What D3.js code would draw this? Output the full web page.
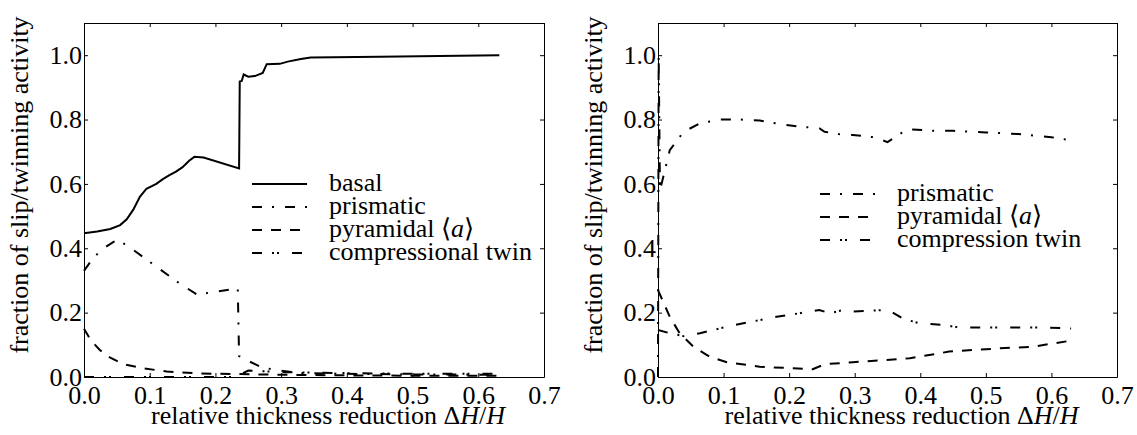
<!DOCTYPE html>
<html>
<head>
<meta charset="utf-8">
<script src="https://cdn.jsdelivr.net/npm/d3@7"></script>
<style>
  body { margin: 0; background: #fff; }
</style>
</head>
<body>
<div id="chart"></div>
<script>
// left panel: slip/twinning fractions vs thickness reduction
const basalX = [0, 0.02, 0.04, 0.055, 0.065, 0.075, 0.085, 0.095, 0.11, 0.12, 0.13, 0.14, 0.15, 0.16, 0.168, 0.182, 0.236, 0.237, 0.24, 0.243, 0.25, 0.26, 0.272, 0.278, 0.298, 0.31, 0.33, 0.345, 0.45, 0.632];
const basalY = [0.447, 0.452, 0.46, 0.472, 0.49, 0.52, 0.56, 0.585, 0.6, 0.615, 0.627, 0.638, 0.652, 0.672, 0.684, 0.682, 0.648, 0.918, 0.92, 0.94, 0.933, 0.935, 0.945, 0.972, 0.973, 0.98, 0.988, 0.993, 0.995, 1.0];

const prismLX = [0, 0.014, 0.03, 0.045, 0.052, 0.075, 0.11, 0.146, 0.172, 0.2, 0.234, 0.236, 0.245, 0.268, 0.29, 0.33, 0.4, 0.5, 0.632];
const prismLY = [0.33, 0.37, 0.4, 0.42, 0.426, 0.395, 0.343, 0.29, 0.256, 0.265, 0.275, 0.065, 0.055, 0.032, 0.022, 0.012, 0.01, 0.008, 0.007];

const pyrLX = [0, 0.01, 0.024, 0.04, 0.06, 0.09, 0.126, 0.177, 0.237, 0.3, 0.4, 0.5, 0.632];
const pyrLY = [0.15, 0.115, 0.084, 0.06, 0.04, 0.027, 0.017, 0.011, 0.009, 0.007, 0.005, 0.004, 0.004];

const twinLX = [0, 0.23, 0.25, 0.3, 0.4, 0.5, 0.632];
const twinLY = [0.0, 0.0, 0.02, 0.015, 0.012, 0.01, 0.01];

// right panel
const prismRX = [0, 0.001, 0.003, 0.018, 0.039, 0.064, 0.094, 0.125, 0.155, 0.186, 0.216, 0.246, 0.254, 0.275, 0.297, 0.33, 0.35, 0.38, 0.42, 0.45, 0.5, 0.55, 0.6, 0.632];
const prismRY = [0, 1.0, 0.58, 0.705, 0.762, 0.788, 0.8, 0.8, 0.797, 0.786, 0.778, 0.773, 0.762, 0.755, 0.752, 0.745, 0.73, 0.77, 0.765, 0.765, 0.76, 0.755, 0.745, 0.735];

const pyrRX = [0, 0.018, 0.033, 0.054, 0.079, 0.105, 0.155, 0.206, 0.236, 0.251, 0.256, 0.297, 0.384, 0.444, 0.521, 0.571, 0.63];
const pyrRY = [0.27, 0.187, 0.136, 0.094, 0.063, 0.046, 0.032, 0.027, 0.024, 0.037, 0.04, 0.046, 0.058, 0.079, 0.089, 0.094, 0.113];

const twinRX = [0, 0.018, 0.039, 0.064, 0.094, 0.13, 0.181, 0.231, 0.246, 0.262, 0.282, 0.297, 0.343, 0.35, 0.373, 0.398, 0.434, 0.459, 0.521, 0.576, 0.63];
const twinRY = [0.146, 0.136, 0.127, 0.136, 0.151, 0.167, 0.187, 0.203, 0.208, 0.198, 0.208, 0.203, 0.208, 0.21, 0.182, 0.167, 0.162, 0.154, 0.154, 0.154, 0.151];

const xTicks = [0, 0.1, 0.2, 0.3, 0.4, 0.5, 0.6, 0.7];
const yTicks = [0, 0.2, 0.4, 0.6, 0.8, 1.0];

const dashes = {
  solid: null,
  dashed: '10,9',
  dashdot: '10,10,2,11',
  dashdotdot: '10,10,2,3,2,13'
};

const serif = '"Liberation Serif", serif';

const zip = (xs, ys) => xs.map((x, i) => ({ x, y: ys[i] }));

const panels = [
  {
    left: 84, right: 544,
    series: [
      { name: 'basal', style: 'solid', data: zip(basalX, basalY) },
      { name: 'prismatic', style: 'dashdot', data: zip(prismLX, prismLY) },
      { name: 'pyramidal', style: 'dashed', data: zip(pyrLX, pyrLY) },
      { name: 'compressional twin', style: 'dashdotdot', data: zip(twinLX, twinLY) }
    ],
    legend: { x: 252, y: 184 }
  },
  {
    left: 658, right: 1117,
    series: [
      { name: 'prismatic', style: 'dashdot', data: zip(prismRX, prismRY) },
      { name: 'pyramidal', style: 'dashed', data: zip(pyrRX, pyrRY) },
      { name: 'compression twin', style: 'dashdotdot', data: zip(twinRX, twinRY) }
    ],
    legend: { x: 820, y: 194 }
  }
];

const svg = d3.select('#chart').append('svg')
  .attr('width', 1137)
  .attr('height', 435);

const plotTop = 23, plotBottom = 377;
const fontSize = 26;

panels.forEach(p => {
  const x = d3.scaleLinear().domain([0, 0.7]).range([p.left, p.right]);
  const y = d3.scaleLinear().domain([0, 1.1]).range([plotBottom, plotTop]);

  const line = d3.line().x(d => x(d.x)).y(d => y(d.y));

  p.series.forEach(s => {
    svg.append('path')
      .datum(s.data)
      .attr('fill', 'none')
      .attr('stroke', '#000')
      .attr('stroke-width', 2)
      .attr('stroke-dasharray', dashes[s.style])
      .attr('d', line);
  });

  const fmt = d3.format('.1f');
  const styleAxis = g => {
    g.attr('font-size', fontSize);
    g.select('.domain').attr('stroke', '#000');
    g.selectAll('.tick line').attr('stroke', '#000');
    g.selectAll('.tick text').attr('fill', '#000').style('font-family', serif);
  };

  svg.append('g').attr('transform', `translate(0,${plotBottom})`)
    .call(d3.axisBottom(x).tickValues(xTicks).tickFormat(fmt).tickSize(-4).tickSizeOuter(0).tickPadding(9))
    .call(styleAxis);
  svg.append('g').attr('transform', `translate(0,${plotTop})`)
    .call(d3.axisTop(x).tickValues(xTicks).tickFormat('').tickSize(-4).tickSizeOuter(0))
    .call(styleAxis);
  svg.append('g').attr('transform', `translate(${p.left},0)`)
    .call(d3.axisLeft(y).tickValues(yTicks).tickFormat(fmt).tickSize(-4).tickSizeOuter(0).tickPadding(2))
    .call(styleAxis);
  svg.append('g').attr('transform', `translate(${p.right},0)`)
    .call(d3.axisRight(y).tickValues(yTicks).tickFormat('').tickSize(-4).tickSizeOuter(0))
    .call(styleAxis);

  // axis labels
  svg.append('text')
    .attr('transform', `translate(${p.left - 56},185) rotate(-90)`)
    .attr('text-anchor', 'middle')
    .attr('font-size', fontSize)
    .style('font-family', serif)
    .text('fraction of slip/twinning activity');

  const xl = svg.append('text')
    .attr('x', (p.left + p.right) / 2 + 14)
    .attr('y', 424)
    .attr('text-anchor', 'middle')
    .attr('font-size', fontSize)
    .style('font-family', serif);
  xl.append('tspan').text('relative thickness reduction \u0394');
  xl.append('tspan').attr('font-style', 'italic').text('H');
  xl.append('tspan').text('/');
  xl.append('tspan').attr('font-style', 'italic').text('H');

  // legend
  const lg = svg.append('g').attr('transform', `translate(${p.legend.x},${p.legend.y})`);
  p.series.forEach((s, i) => {
    const row = lg.append('g').attr('transform', `translate(0,${i * 23})`);
    row.append('line')
      .attr('x1', 0).attr('x2', 55)
      .attr('stroke', '#000').attr('stroke-width', 2)
      .attr('stroke-dasharray', dashes[s.style]);
    const t = row.append('text').attr('x', 77).attr('y', 7)
      .attr('font-size', fontSize).style('font-family', serif);
    if (s.name === 'pyramidal') {
      t.append('tspan').text('pyramidal \u27E8');
      t.append('tspan').attr('font-style', 'italic').text('a');
      t.append('tspan').text('\u27E9');
    } else {
      t.text(s.name);
    }
  });
});
</script>
</body>
</html>
